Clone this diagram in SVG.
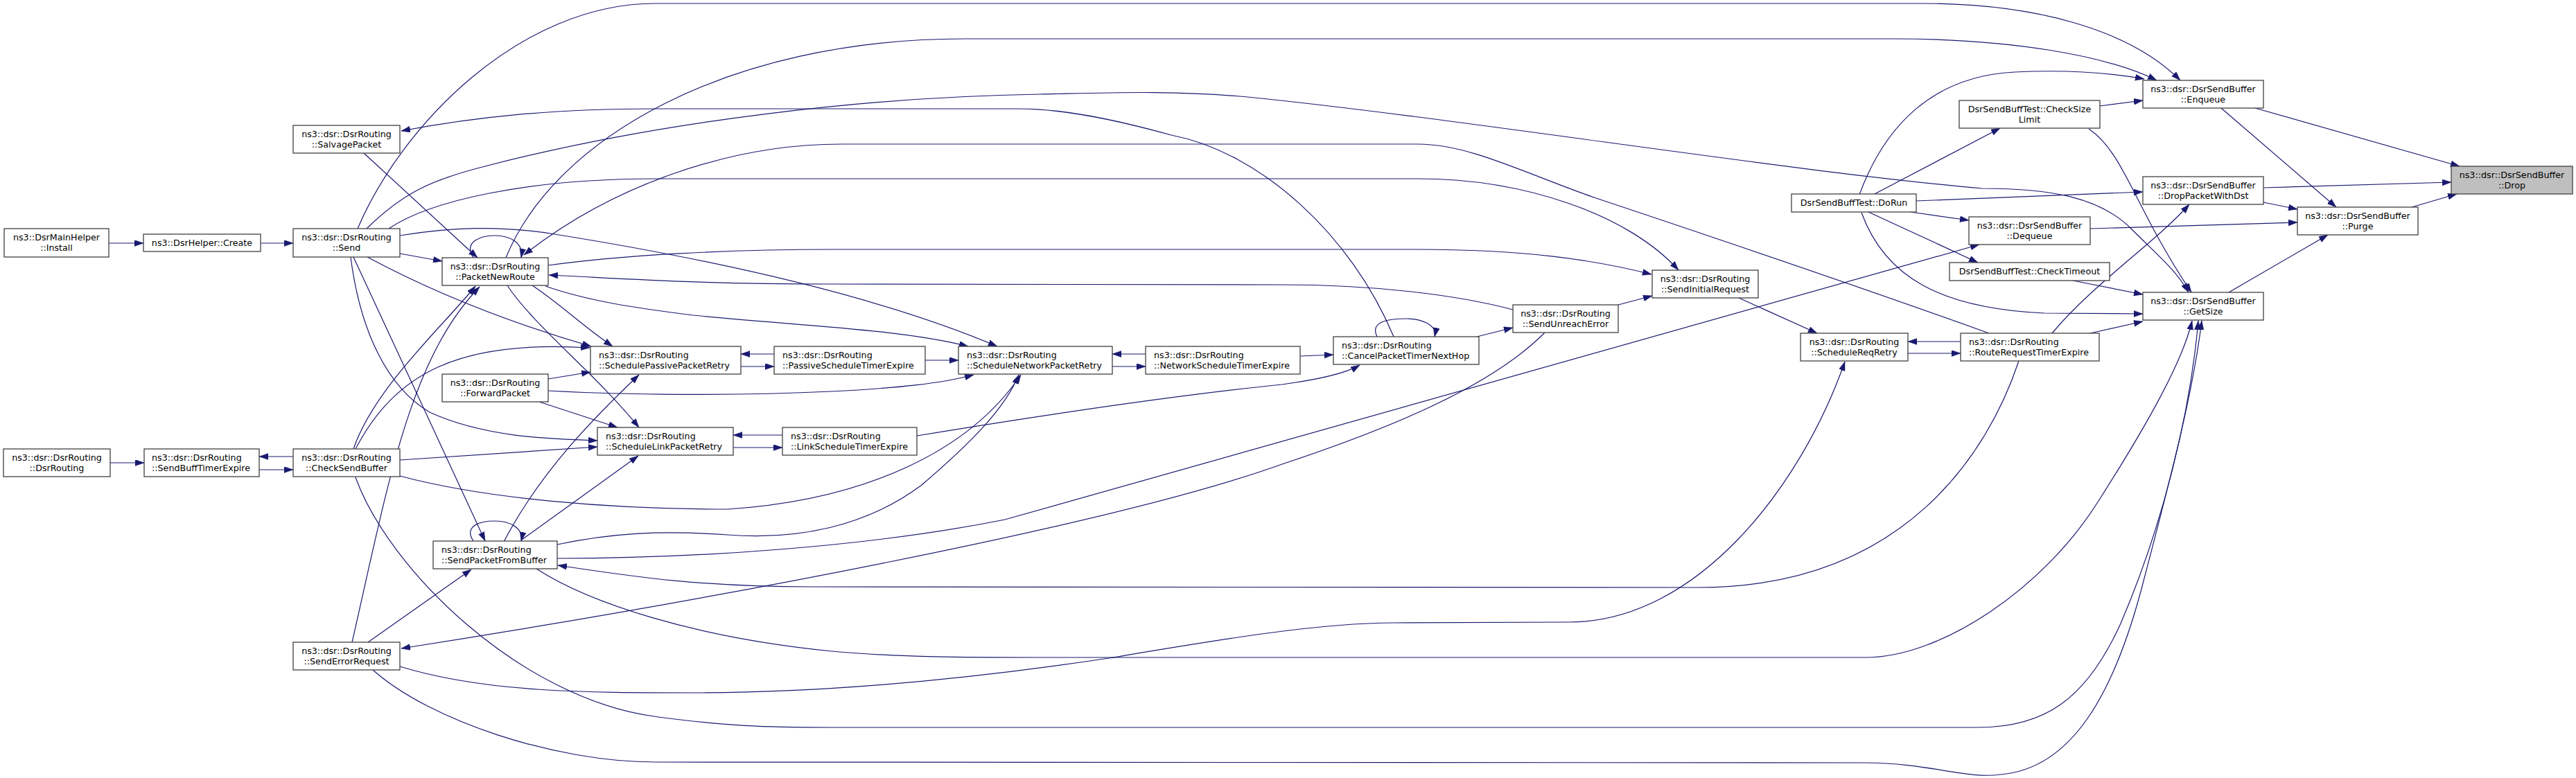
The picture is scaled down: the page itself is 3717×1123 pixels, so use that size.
<svg xmlns="http://www.w3.org/2000/svg" width="3717" height="1123" viewBox="0 0 3717 1123">
<style>
.node rect{fill:#ffffff;stroke:#404040;stroke-width:1.3}
.node.hl rect{fill:#bfbfbf}
.node text{font-family:"DejaVu Sans","Liberation Sans",Arial,sans-serif;font-size:12.7px;fill:#000000}
.c{text-anchor:middle}
.l{text-anchor:start}
.edges path{fill:none;stroke:#191970;stroke-width:1.2;marker-end:url(#arr)}
</style>
<defs>
<marker id="arr" markerUnits="userSpaceOnUse" markerWidth="14" markerHeight="10" refX="13" refY="4.5" orient="auto">
<path d="M0,0 L13,4.5 L0,9 z" fill="#191970" stroke="#191970" stroke-width="0.5"/>
</marker>
</defs>
<rect x="0" y="0" width="3717" height="1123" fill="#ffffff"/>
<g id="connectors" class="edges">
<path id="e_install_create" d="M157,351 L207,351"/>
<path id="e_create_send" d="M376,351 L423,351"/>
<path id="e_dsr_sbte" d="M159,668 L208,668"/>
<path id="e_sbte_csb" d="M374,678 L423,678"/>
<path id="e_csb_sbte" d="M423,659 L374,659"/>
<path id="e_send_pnr" d="M577,366 L638,377"/>
<path id="e_send_enqueue" d="M516,330 C580,180 750,5 946,5 L2773,5 C2930,5 3070,40 3146,116"/>
<path id="e_send_getsize" d="M529,330 C580,280 620,260 700,240 C950,175 1250,140 1500,136 C1600,134 1690,130 1800,140 C2100,170 2600,250 2860,272 C2960,272 3030,285 3075,330 C3115,370 3140,390 3158,422"/>
<path id="e_send_sir" d="M561,330 C620,290 760,258 946,258 L2046,258 C2200,258 2350,310 2422,390"/>
<path id="e_pnr_enqueue" d="M730,372 C800,200 1050,56 1393,56 L2733,56 C2900,56 3040,80 3112,116"/>
<path id="e_salvage_pnr" d="M525,221 L689,372"/>
<path id="e_cptnh_salvage" d="M2011,486 C1950,340 1820,220 1690,195 C1600,170 1530,157 1470,157 L946,157 C800,157 690,168 579,189"/>
<path id="e_pnr_self" d="M683,372 C668,348 695,340 714,340 C735,340 756,350 752,372"/>
<path id="e_rrte_pnr" d="M2870,481 C2700,420 2450,335 2300,285 C2200,250 2120,208 2046,208 L1214,208 C1050,208 880,270 756,368"/>
<path id="e_sue_pnr" d="M2183,447 C2100,425 1980,411 1850,411 L1200,410 C1000,410 900,402 792,397"/>
<path id="e_pnr_sir" d="M791,383 C900,368 1050,360 1201,360 L2046,360 C2200,360 2300,375 2383,396"/>
<path id="e_send_snpr" d="M577,340 C650,328 720,325 800,338 C1000,370 1250,420 1439,500"/>
<path id="e_pnr_snpr" d="M787,413 C850,435 920,445 1000,455 C1150,470 1300,475 1397,500"/>
<path id="e_pnr_sppr" d="M768,412 C810,440 840,470 884,500"/>
<path id="e_pnr_slpr" d="M732,412 C770,470 860,540 922,617"/>
<path id="e_send_sppr" d="M530,371 C640,430 750,470 853,500"/>
<path id="e_csb_sppr" d="M513,648 C570,540 660,490 851,502"/>
<path id="e_csb_pnr" d="M510,648 C540,560 640,470 686,413"/>
<path id="e_ser_pnr" d="M508,927 C560,700 590,520 692,414"/>
<path id="e_send_spfb" d="M510,371 C560,480 640,650 700,781"/>
<path id="e_send_slpr" d="M506,371 C520,480 560,560 620,595 C700,632 800,634 862,636"/>
<path id="e_csb_slpr" d="M577,664 L862,645"/>
<path id="e_csb_snpr" d="M577,687 C700,720 880,735 1050,735 C1250,722 1400,650 1473,541"/>
<path id="e_csb_getsize" d="M513,689 C560,820 750,1010 950,1035 C1050,1048 1100,1050 1200,1050 L2854,1050 C2950,1050 3010,1010 3060,900 C3120,760 3160,600 3172,463"/>
<path id="e_fp_sppr" d="M791,547 L852,537"/>
<path id="e_fp_snpr" d="M791,564 C900,570 1050,572 1200,565 C1300,560 1360,553 1405,541"/>
<path id="e_fp_slpr" d="M778,580 L891,617"/>
<path id="e_spfb_self" d="M683,781 C668,758 695,752 714,752 C735,752 756,762 752,781"/>
<path id="e_spfb_sppr" d="M727,782 C780,680 860,600 922,541"/>
<path id="e_spfb_slpr" d="M753,779 L921,658"/>
<path id="e_spfb_snpr" d="M804,786 C880,770 950,765 1050,772 C1150,780 1250,760 1330,700 C1400,640 1450,590 1470,541"/>
<path id="e_spfb_dequeue" d="M804,806 C1000,806 1250,790 1450,750 L2856,353"/>
<path id="e_spfb_getsize" d="M774,821 C850,870 1000,920 1200,940 C1300,949 1400,949 1500,949 L2692,949 C2800,949 2950,850 3030,720 C3100,610 3150,520 3163,463"/>
<path id="e_rrte_spfb" d="M2913,521 C2870,650 2750,848 2450,848 L1170,847 C1000,847 900,830 805,816"/>
<path id="e_ser_spfb" d="M531,927 L680,822"/>
<path id="e_ser_srr" d="M577,962 C700,1000 850,1000 1000,1000 C1200,1000 1400,980 1600,950 C1750,925 1900,899 2011,899 L2264,898 C2450,898 2600,700 2662,522"/>
<path id="e_ser_getsize" d="M538,967 C620,1040 800,1100 946,1100 L2692,1101 C2780,1101 2840,1125 2886,1118 C2990,1110 3050,1000 3090,850 C3140,660 3165,560 3177,463"/>
<path id="e_sue_ser" d="M2229,480 C2150,560 2000,620 1850,670 C1600,760 1000,870 579,936"/>
<path id="e_sppr_pste" d="M1069,529 L1117,529"/>
<path id="e_pste_sppr" d="M1117,511 L1069,511"/>
<path id="e_pste_snpr" d="M1335,520 L1383,520"/>
<path id="e_snpr_nste" d="M1605,529 L1653,529"/>
<path id="e_nste_snpr" d="M1653,511 L1605,511"/>
<path id="e_nste_cptnh" d="M1876,514 L1924,512"/>
<path id="e_slpr_lste" d="M1058,646 L1129,646"/>
<path id="e_lste_slpr" d="M1129,628 L1058,628"/>
<path id="e_lste_cptnh" d="M1323,629 C1500,600 1700,570 1850,555 C1900,548 1940,540 1962,527"/>
<path id="e_cptnh_self" d="M1987,486 C1975,462 2010,460 2029,460 C2050,460 2074,468 2070,486"/>
<path id="e_cptnh_sue" d="M2131,486 L2183,473"/>
<path id="e_sue_sir" d="M2335,440 L2384,427"/>
<path id="e_sir_srr" d="M2509,430 L2622,481"/>
<path id="e_srr_rrte" d="M2753,510 L2829,510"/>
<path id="e_rrte_srr" d="M2829,493 L2753,493"/>
<path id="e_rrte_getsize" d="M3016,481 L3092,464"/>
<path id="e_rrte_dpwd" d="M2961,481 C3020,410 3110,350 3159,295"/>
<path id="e_dorun_csl" d="M2703,281 L2886,185"/>
<path id="e_dorun_enqueue" d="M2683,281 C2720,180 2790,110 2907,104 C2990,100 3050,106 3094,114"/>
<path id="e_dorun_dpwd" d="M2765,290 L3092,277"/>
<path id="e_dorun_dequeue" d="M2757,306 L2841,318"/>
<path id="e_dorun_ctimeout" d="M2696,306 L2854,379"/>
<path id="e_dorun_getsize" d="M2686,307 C2720,400 2800,445 2950,452 L3092,453"/>
<path id="e_ctimeout_getsize" d="M2991,405 L3092,425"/>
<path id="e_csl_enqueue" d="M3030,153 L3092,145"/>
<path id="e_csl_getsize" d="M3014,186 C3065,220 3080,300 3162,422"/>
<path id="e_enqueue_drop" d="M3254,156 L3549,240"/>
<path id="e_enqueue_purge" d="M3205,156 L3371,299"/>
<path id="e_dpwd_drop" d="M3266,271 L3537,263"/>
<path id="e_dpwd_purge" d="M3266,292 L3315,302"/>
<path id="e_dequeue_purge" d="M3016,330 L3315,321"/>
<path id="e_getsize_purge" d="M3216,422 L3359,339"/>
<path id="e_purge_drop" d="M3480,299 L3545,280"/>
</g>
<g id="n_install" class="node"><rect x="6" y="330" width="151" height="41"/><text class="c" x="81.5" y="347">ns3::DsrMainHelper</text><text class="c" x="81.5" y="362">::Install</text></g>
<g id="n_dsrrouting" class="node"><rect x="5" y="648" width="154" height="40"/><text class="c" x="82" y="665">ns3::dsr::DsrRouting</text><text class="c" x="82" y="680">::DsrRouting</text></g>
<g id="n_create" class="node"><rect x="207" y="338" width="169" height="25"/><text class="c" x="291.5" y="355">ns3::DsrHelper::Create</text></g>
<g id="n_sbte" class="node"><rect x="208" y="648" width="166" height="40"/><text class="l" x="219" y="665">ns3::dsr::DsrRouting</text><text class="l" x="219" y="680">::SendBuffTimerExpire</text></g>
<g id="n_salvage" class="node"><rect x="423" y="181" width="154" height="40"/><text class="c" x="500" y="198">ns3::dsr::DsrRouting</text><text class="c" x="500" y="213">::SalvagePacket</text></g>
<g id="n_send" class="node"><rect x="423" y="330" width="154" height="41"/><text class="c" x="500" y="347">ns3::dsr::DsrRouting</text><text class="c" x="500" y="362">::Send</text></g>
<g id="n_csb" class="node"><rect x="423" y="648" width="154" height="40"/><text class="c" x="500" y="665">ns3::dsr::DsrRouting</text><text class="c" x="500" y="680">::CheckSendBuffer</text></g>
<g id="n_ser" class="node"><rect x="423" y="927" width="154" height="40"/><text class="c" x="500" y="944">ns3::dsr::DsrRouting</text><text class="c" x="500" y="959">::SendErrorRequest</text></g>
<g id="n_pnr" class="node"><rect x="638" y="372" width="153" height="40"/><text class="c" x="714.5" y="389">ns3::dsr::DsrRouting</text><text class="c" x="714.5" y="404">::PacketNewRoute</text></g>
<g id="n_fp" class="node"><rect x="638" y="540" width="153" height="40"/><text class="c" x="714.5" y="557">ns3::dsr::DsrRouting</text><text class="c" x="714.5" y="572">::ForwardPacket</text></g>
<g id="n_spfb" class="node"><rect x="625" y="781" width="179" height="40"/><text class="l" x="637" y="798">ns3::dsr::DsrRouting</text><text class="l" x="637" y="813">::SendPacketFromBuffer</text></g>
<g id="n_sppr" class="node"><rect x="852" y="500" width="217" height="40"/><text class="l" x="864" y="517">ns3::dsr::DsrRouting</text><text class="l" x="864" y="532">::SchedulePassivePacketRetry</text></g>
<g id="n_slpr" class="node"><rect x="862" y="617" width="196" height="40"/><text class="l" x="874" y="634">ns3::dsr::DsrRouting</text><text class="l" x="874" y="649">::ScheduleLinkPacketRetry</text></g>
<g id="n_pste" class="node"><rect x="1117" y="500" width="218" height="40"/><text class="l" x="1129" y="517">ns3::dsr::DsrRouting</text><text class="l" x="1129" y="532">::PassiveScheduleTimerExpire</text></g>
<g id="n_lste" class="node"><rect x="1129" y="617" width="194" height="40"/><text class="l" x="1141" y="634">ns3::dsr::DsrRouting</text><text class="l" x="1141" y="649">::LinkScheduleTimerExpire</text></g>
<g id="n_snpr" class="node"><rect x="1383" y="500" width="222" height="40"/><text class="l" x="1395" y="517">ns3::dsr::DsrRouting</text><text class="l" x="1395" y="532">::ScheduleNetworkPacketRetry</text></g>
<g id="n_nste" class="node"><rect x="1653" y="500" width="223" height="40"/><text class="l" x="1665" y="517">ns3::dsr::DsrRouting</text><text class="l" x="1665" y="532">::NetworkScheduleTimerExpire</text></g>
<g id="n_cptnh" class="node"><rect x="1924" y="486" width="210" height="40"/><text class="l" x="1936" y="503">ns3::dsr::DsrRouting</text><text class="l" x="1936" y="518">::CancelPacketTimerNextHop</text></g>
<g id="n_sue" class="node"><rect x="2183" y="440" width="152" height="40"/><text class="c" x="2259" y="457">ns3::dsr::DsrRouting</text><text class="c" x="2259" y="472">::SendUnreachError</text></g>
<g id="n_sir" class="node"><rect x="2384" y="390" width="153" height="40"/><text class="c" x="2460.5" y="407">ns3::dsr::DsrRouting</text><text class="c" x="2460.5" y="422">::SendInitialRequest</text></g>
<g id="n_srr" class="node"><rect x="2598" y="481" width="155" height="40"/><text class="c" x="2675.5" y="498">ns3::dsr::DsrRouting</text><text class="c" x="2675.5" y="513">::ScheduleReqRetry</text></g>
<g id="n_dorun" class="node"><rect x="2585" y="280" width="180" height="26"/><text class="c" x="2675" y="297">DsrSendBuffTest::DoRun</text></g>
<g id="n_csl" class="node"><rect x="2827" y="145" width="203" height="40"/><text class="c" x="2928.5" y="162">DsrSendBuffTest::CheckSize</text><text class="c" x="2928.5" y="177">Limit</text></g>
<g id="n_dequeue" class="node"><rect x="2841" y="313" width="175" height="40"/><text class="c" x="2928.5" y="330">ns3::dsr::DsrSendBuffer</text><text class="c" x="2928.5" y="345">::Dequeue</text></g>
<g id="n_ctimeout" class="node"><rect x="2813" y="379" width="231" height="26"/><text class="c" x="2928.5" y="396">DsrSendBuffTest::CheckTimeout</text></g>
<g id="n_rrte" class="node"><rect x="2829" y="481" width="200" height="40"/><text class="l" x="2841" y="498">ns3::dsr::DsrRouting</text><text class="l" x="2841" y="513">::RouteRequestTimerExpire</text></g>
<g id="n_enqueue" class="node"><rect x="3092" y="116" width="174" height="40"/><text class="c" x="3179" y="133">ns3::dsr::DsrSendBuffer</text><text class="c" x="3179" y="148">::Enqueue</text></g>
<g id="n_dpwd" class="node"><rect x="3092" y="255" width="174" height="40"/><text class="c" x="3179" y="272">ns3::dsr::DsrSendBuffer</text><text class="c" x="3179" y="287">::DropPacketWithDst</text></g>
<g id="n_getsize" class="node"><rect x="3092" y="422" width="174" height="40"/><text class="c" x="3179" y="439">ns3::dsr::DsrSendBuffer</text><text class="c" x="3179" y="454">::GetSize</text></g>
<g id="n_purge" class="node"><rect x="3315" y="299" width="174" height="40"/><text class="c" x="3402" y="316">ns3::dsr::DsrSendBuffer</text><text class="c" x="3402" y="331">::Purge</text></g>
<g id="n_drop" class="node hl"><rect x="3537" y="240" width="175" height="40"/><text class="c" x="3624.5" y="257">ns3::dsr::DsrSendBuffer</text><text class="c" x="3624.5" y="272">::Drop</text></g>
</svg>
